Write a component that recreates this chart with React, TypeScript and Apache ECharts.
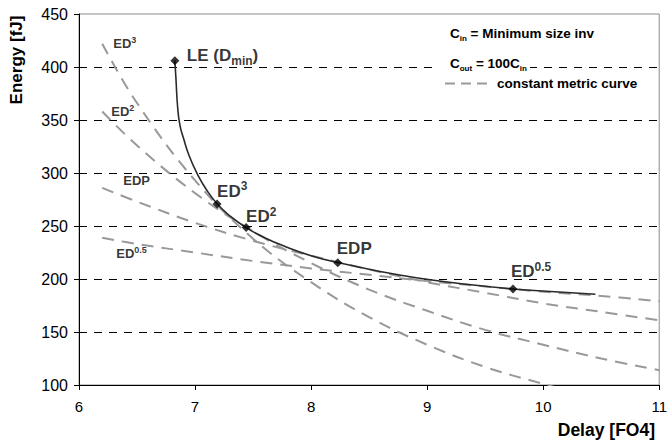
import React, { useEffect, useRef } from "react";
import * as echarts from "echarts";

// ---- data ----
// Optimal energy-delay curve (solid line)
const optimalDelay = [6.826, 6.835, 6.85, 6.87, 6.9, 6.95, 7.02, 7.1, 7.19, 7.3, 7.44, 7.6, 7.78, 8.0, 8.23, 8.6, 8.92, 9.3, 9.74, 10.1, 10.45];
const optimalEnergy = [406, 390, 362, 345, 333, 316, 299, 284, 271, 259.5, 248.5, 239, 230.5, 222, 215.5, 207, 201, 195.5, 190.6, 188, 185.6];

// Marked optimum points
const markerNames = ["LE", "ED3", "ED2", "EDP", "ED0.5"];
const markerDelay = [6.826, 7.19, 7.44, 8.23, 9.74];
const markerEnergy = [406, 270.7, 248.5, 215.4, 190.6];

// Constant metric curves (dashed)
const metricDelay = [6.2, 6.5, 7, 7.5, 8, 8.5, 9, 9.5, 10, 10.5, 11];
const ed3Delay = [6.2, 6.5, 7, 7.5, 8, 8.5, 9, 9.5, 10, 10.2];
const ed3Energy = [422, 366, 293, 238, 197, 164, 138, 117, 101, 95];
const ed2Energy = [358, 326, 281, 245, 215, 190, 170, 152, 138, 125, 114];
const edpEnergy = [286, 273, 253, 236, 222, 209, 197, 187, 177, 169, 161];
const ed05Energy = [239, 233, 225, 217, 210, 204, 198, 193, 188, 184, 179];

const xTicks = { min: 6, max: 11, step: 1 };
const yTicks = { min: 100, max: 450, step: 50 };

const FONT = "'Liberation Sans', Arial, Helvetica, sans-serif";

const markerLabelText = [
  "{b|LE (D}{sub|min}{b|)}",
  "{b|ED}{sup|3}",
  "{b|ED}{sup|2}",
  "{b|EDP}",
  "{b|ED}{sup|0.5}",
];
const markerLabelOffset = [
  [12, -5],
  [0, -13],
  [0, -11],
  [-1, -14],
  [-2, -17],
];

const curveLabelText = ["{s|ED}{ssup|3}", "{s|ED}{ssup|2}", "{s|EDP}", "{s|ED}{ssup|0.5}"];
const curveLabelOffset = [
  [11, 0],
  [9, 0],
  [21, -7],
  [14, 16],
];

const richBig = {
  b: { fontSize: 17, fontWeight: "bold", fontFamily: FONT, color: "#000", lineHeight: 22, verticalAlign: "middle" },
  sub: { fontSize: 12, fontWeight: "bold", fontFamily: FONT, color: "#000", lineHeight: 12, verticalAlign: "bottom" },
  sup: { fontSize: 12, fontWeight: "bold", fontFamily: FONT, color: "#000", lineHeight: 12, verticalAlign: "top" },
  s: { fontSize: 13, fontWeight: "bold", fontFamily: FONT, color: "#000", lineHeight: 16, verticalAlign: "middle" },
  ssup: { fontSize: 9, fontWeight: "bold", fontFamily: FONT, color: "#000", lineHeight: 9, verticalAlign: "top" },
};

const richSmall = {
  m: { fontSize: 13.5, fontWeight: "bold", fontFamily: FONT, color: "#000", lineHeight: 18, verticalAlign: "middle" },
  d: { fontSize: 8, fontWeight: "bold", fontFamily: FONT, color: "#000", lineHeight: 8, verticalAlign: "bottom" },
};

export default function App() {
  const ref = useRef<HTMLDivElement>(null);

  useEffect(() => {
    if (!ref.current) return;
    const chart = echarts.init(ref.current, null, { renderer: "svg" });

    const dashed = {
      color: "#999",
      width: 2,
      type: [12, 8] as number[],
    };

    const metricSeries = [
      { x: ed3Delay, y: ed3Energy },
      { x: metricDelay, y: ed2Energy },
      { x: metricDelay, y: edpEnergy },
      { x: metricDelay, y: ed05Energy },
    ].map((c) => ({
      type: "line",
      name: "constant metric curve",
      data: c.x.map((d, i) => [d, c.y[i]]),
      symbol: "none",
      smooth: 0.4,
      lineStyle: dashed,
      itemStyle: { color: "#999" },
      z: 2,
      silent: true,
    }));

    const curveLabels = [ed3Energy, ed2Energy, edpEnergy, ed05Energy].map((arr, i) => ({
      value: [i === 0 ? ed3Delay[0] : metricDelay[0], arr[0]],
      label: {
        show: true,
        formatter: curveLabelText[i],
        position: "inside",
        align: "left",
        verticalAlign: "middle",
        offset: curveLabelOffset[i],
        rich: richBig,
        color: "#000",
      },
    }));

    const markers = markerDelay.map((d, i) => ({
      name: markerNames[i],
      value: [d, markerEnergy[i]],
      label: {
        show: true,
        formatter: markerLabelText[i],
        position: "inside",
        align: "left",
        verticalAlign: "middle",
        offset: markerLabelOffset[i],
        rich: richBig,
        color: "#000",
      },
    }));

    chart.setOption({
      animation: false,
      backgroundColor: "#fff",
      textStyle: { fontFamily: FONT },
      grid: {
        left: 79,
        right: 6,
        top: 14,
        bottom: 59,
        show: true,
        borderColor: "#8c8c8c",
        borderWidth: 1,
        backgroundColor: "transparent",
      },
      xAxis: {
        type: "value",
        min: xTicks.min,
        max: xTicks.max,
        interval: xTicks.step,
        axisLine: { show: true, onZero: false, lineStyle: { color: "#000", width: 1 } },
        axisTick: { show: true, length: 5, lineStyle: { color: "#000" } },
        axisLabel: { color: "#000", fontSize: 15, margin: 14, fontFamily: FONT },
        splitLine: { show: false },
      },
      yAxis: {
        type: "value",
        min: yTicks.min,
        max: yTicks.max,
        interval: yTicks.step,
        axisLine: { show: true, onZero: false, lineStyle: { color: "#000", width: 1 } },
        axisTick: { show: true, length: 5, lineStyle: { color: "#000" } },
        axisLabel: { color: "#000", fontSize: 16, margin: 11, fontFamily: FONT },
        splitLine: {
          show: true,
          showMinLine: false,
          showMaxLine: false,
          lineStyle: { color: "#000", width: 1, type: [8, 7] },
        },
      },
      graphic: [
        {
          type: "rect",
          shape: { x: 438, y: 55, width: 92, height: 20 },
          style: { fill: "#fff" },
          z: 1,
          silent: true,
        },
        {
          type: "text",
          x: 450,
          y: 33,
          z: 10,
          style: {
            text: "{m|C}{d|in}{m| = Minimum size inv}",
            rich: richSmall,
            align: "left",
            verticalAlign: "middle",
          },
        },
        {
          type: "text",
          x: 450,
          y: 63,
          z: 10,
          style: {
            text: "{m|C}{d|out}{m| = 100C}{d|in}",
            rich: richSmall,
            align: "left",
            verticalAlign: "middle",
          },
        },
        {
          type: "line",
          z: 10,
          shape: { x1: 445, y1: 83.5, x2: 489, y2: 83.5 },
          style: { stroke: "#999", lineWidth: 2, lineDash: [10, 6] },
        },
        {
          type: "text",
          x: 497,
          y: 83,
          z: 10,
          style: {
            text: "constant metric curve",
            font: `bold 13.5px ${FONT}`,
            fill: "#000",
            align: "left",
            verticalAlign: "middle",
          },
        },
        {
          type: "text",
          x: 16,
          y: 60,
          rotation: Math.PI / 2,
          style: {
            text: "Energy [fJ]",
            font: `bold 17px ${FONT}`,
            fill: "#000",
            align: "center",
            verticalAlign: "middle",
          },
        },
        {
          type: "text",
          x: 655,
          y: 430,
          style: {
            text: "Delay [FO4]",
            font: `bold 17.5px ${FONT}`,
            fill: "#000",
            align: "right",
            verticalAlign: "middle",
          },
        },
      ],
      series: [
        ...metricSeries,
        {
          type: "line",
          name: "optimal",
          data: optimalDelay.map((d, i) => [d, optimalEnergy[i]]),
          symbol: "none",
          smooth: 0.5,
          lineStyle: { color: "#2a2a2a", width: 1.6 },
          z: 3,
          silent: true,
        },
        {
          type: "scatter",
          name: "optima",
          data: markers,
          symbol: "diamond",
          symbolSize: 9,
          itemStyle: { color: "#000" },
          z: 4,
          silent: true,
        },
        {
          type: "scatter",
          name: "curve labels",
          data: curveLabels,
          symbolSize: 1,
          itemStyle: { color: "rgba(0,0,0,0)" },
          z: 4,
          silent: true,
        },
      ],
    });

    return () => chart.dispose();
  }, []);

  return <div ref={ref} style={{ width: 670, height: 444, position: "absolute", left: 0, top: 0 }} />;
}
